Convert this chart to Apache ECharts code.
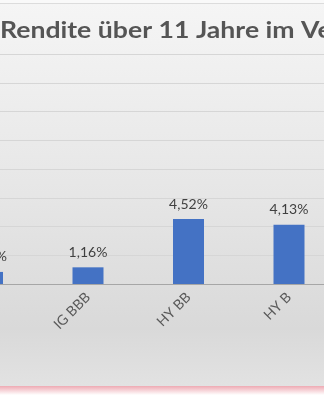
<!DOCTYPE html>
<html>
<head>
<meta charset="utf-8">
<script src="https://cdn.jsdelivr.net/npm/echarts@6/dist/echarts.min.js"></script>
<style>
html,body{margin:0;padding:0;background:#fff;overflow:hidden;width:324px;height:400px;position:relative;}
#chart{position:absolute;left:-100px;top:0;width:440px;height:400px;}
</style>
</head>
<body>
<div id="chart"></div>
<script>
const titleText = 'Rendite über 11 Jahre im Vergleich';
const categories = ['IG A', 'IG BBB', 'HY BB', 'HY B'];
const values = [0.84, 1.16, 4.52, 4.13];
const yMin = 0, yMax = 16, yStep = 2;

const chart = echarts.init(document.getElementById('chart'), null, {renderer: 'canvas'});
chart.setOption({
  animation: false,
  backgroundColor: '#ffffff',
  graphic: [
    {type: 'rect', z: -10, silent: true, shape: {x: 0, y: 0, width: 440, height: 3}, style: {fill: '#f9f9f9'}},
    {type: 'rect', z: -10, silent: true, shape: {x: 0, y: 3, width: 440, height: 383},
      style: {fill: new echarts.graphic.LinearGradient(0, 0, 0, 1, [
        {offset: 0, color: '#f5f5f5'},
        {offset: 0.5, color: '#e6e6e6'},
        {offset: 0.85, color: '#d9d9d9'},
        {offset: 1, color: '#e2e2e2'}
      ])}},
    {type: 'rect', z: -9, silent: true, shape: {x: 0, y: 3, width: 440, height: 1}, style: {fill: '#dcdcdc'}},
    {type: 'rect', z: -10, silent: true, shape: {x: 0, y: 386, width: 440, height: 9},
      style: {fill: new echarts.graphic.LinearGradient(0, 0, 0, 1, [
        {offset: 0, color: '#eeaab3'},
        {offset: 1, color: '#ffffff'}
      ])}},
    {type: 'text', z: 10, silent: true, x: 100, y: 30.5, scaleX: 1.21, scaleY: 1,
      style: {text: titleText, font: 'bold 22px Lato', fill: '#555555',
        textAlign: 'left', textVerticalAlign: 'middle', verticalAlign: 'middle'}}
  ],
  grid: {left: 37.25, right: 0.75, top: 54, bottom: 116, containLabel: false},
  xAxis: {
    type: 'category',
    data: categories,
    axisLine: {lineStyle: {color: '#a6a6a6', width: 1}},
    axisTick: {show: false},
    axisLabel: {rotate: 45, margin: 11, interval: 0, fontFamily: 'Lato', fontSize: 14, color: '#595959'}
  },
  yAxis: {
    type: 'value',
    min: yMin, max: yMax, interval: yStep,
    axisLabel: {show: false},
    axisLine: {show: false},
    axisTick: {show: false},
    splitLine: {lineStyle: {color: '#d6d6d6', width: 1}}
  },
  series: [{
    type: 'bar',
    data: values,
    barWidth: 31,
    itemStyle: {color: '#4472c4'},
    label: {
      show: true, position: 'top', distance: 8,
      fontFamily: 'Lato', fontSize: 14, color: '#404040',
      formatter: p => p.value.toFixed(2).replace('.', ',') + '%'
    }
  }]
});
</script>
</body>
</html>
